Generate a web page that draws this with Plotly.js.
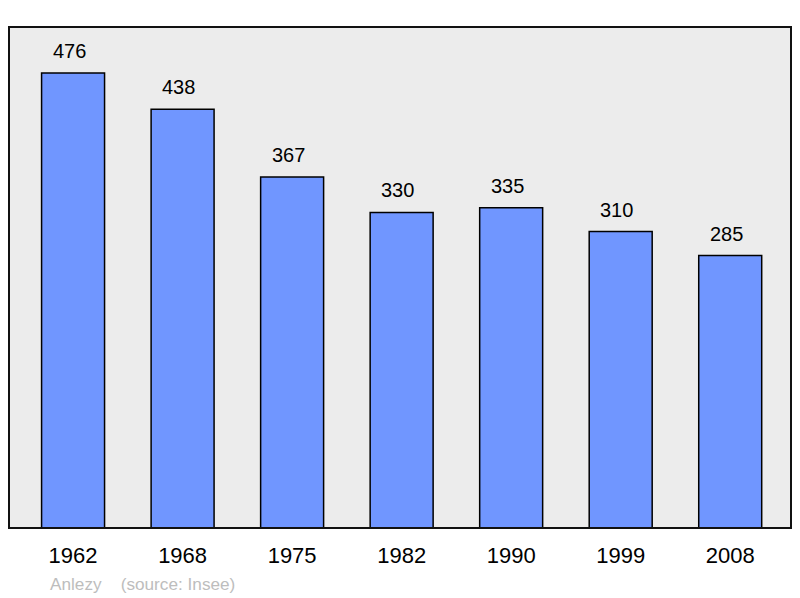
<!DOCTYPE html>
<html><head><meta charset="utf-8">
<script src="https://cdn.plot.ly/plotly-3.0.1.min.js"></script>
<style>body{margin:0;background:#fff}#c{width:800px;height:598px}</style>
</head><body><div id="c"></div>
<script>
const years = ["1962","1968","1975","1982","1990","1999","2008"];
const population = [476,438,367,330,335,310,285];
const commune = "Anlezy";
const source = "(source: Insee)";

const trace = {
  type: "bar",
  x: years,
  y: population,
  width: 0.575,
  marker: {color: "#7096ff", line: {color: "#000", width: 1.5}},
  hoverinfo: "none"
};
const labels = years.map((y, i) => ({
  x: i, y: population[i], xref: "x", yref: "y",
  text: String(population[i]), showarrow: false,
  yanchor: "bottom", yshift: 9, xshift: -4,
  font: {family: "Liberation Sans, Arial, sans-serif", size: 20, color: "#000"}
}));
labels.push({
  xref: "paper", yref: "paper", x: 0.05, y: -0.112, xanchor: "left", yanchor: "middle",
  text: commune + "    " + source, showarrow: false,
  font: {family: "Liberation Sans, Arial, sans-serif", size: 17.2, color: "#bdbdbd"}
});
const layout = {
  width: 800, height: 598,
  margin: {l: 9, r: 9, t: 27, b: 70},
  paper_bgcolor: "#fff",
  plot_bgcolor: "#ececec",
  showlegend: false,
  xaxis: {
    type: "category", range: [-0.585, 6.555],
    showgrid: false, zeroline: false, showline: false, ticks: "",
    tickfont: {family: "Liberation Sans, Arial, sans-serif", size: 22, color: "#000"},
    ticklabelstandoff: 12
  },
  yaxis: {
    range: [0, 524], showgrid: false, zeroline: false, showticklabels: false, showline: false, ticks: ""
  },
  shapes: [{
    type: "rect", xref: "paper", yref: "paper", x0: 0, x1: 1, y0: 0, y1: 1,
    line: {color: "#111", width: 2}, layer: "above"
  }],
  annotations: labels
};
Plotly.newPlot("c", [trace], layout, {staticPlot: true});
</script></body></html>
